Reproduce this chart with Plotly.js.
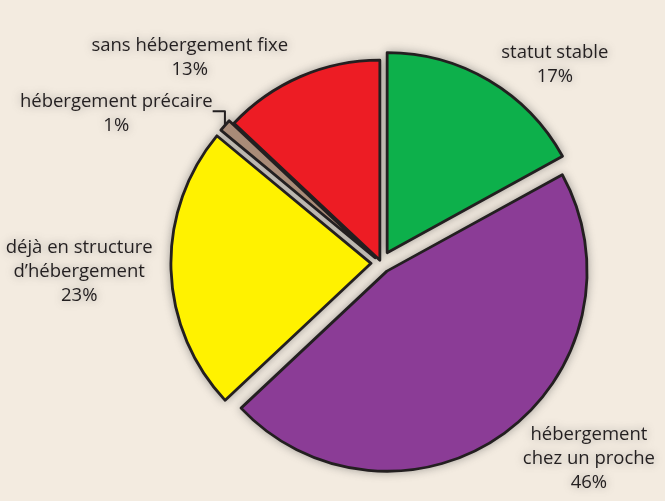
<!DOCTYPE html>
<html>
<head>
<meta charset="utf-8">
<script src="https://cdn.plot.ly/plotly-3.0.1.min.js"></script>
<style>
html,body{margin:0;padding:0;background:#f3ebe0;}
#chart{width:665px;height:501px;}
.pielayer .trace{filter:drop-shadow(0 0 5px rgba(60,60,60,0.45));}
</style>
</head>
<body>
<div id="chart"></div>
<script>
const categories = [
  "statut stable",
  "hébergement<br>chez un proche",
  "déjà en structure<br>d’hébergement",
  "hébergement précaire",
  "sans hébergement fixe"
];
const values = [17, 46, 23, 1, 13];
const colors = ["#0db04b", "#8b3c96", "#fff200", "#a98b78", "#ed1c24"];
const pulls = [0.06, 0.05, 0.05, 0.04, 0.015];

Plotly.newPlot("chart", [{
  type: "pie",
  labels: categories,
  values: values,
  sort: false,
  direction: "clockwise",
  rotation: 0,
  pull: pulls,
  marker: {colors: colors, line: {color: "#231f20", width: 2.8}},
  texttemplate: "%{label}<br>%{value}%",
  textposition: "outside",
  textfont: {family: "'Open Sans', Lato, sans-serif", size: 18.5, color: "#231f20"},
  domain: {x: [0.254, 0.892], y: [0.045, 0.905]},
  hoverinfo: "label+value",
  showlegend: false,
  automargin: false
}], {
  width: 665, height: 501,
  margin: {l: 0, r: 0, t: 0, b: 0},
  paper_bgcolor: "#f3ebe0",
  plot_bgcolor: "#f3ebe0",
  showlegend: false
}, {displayModeBar: false, staticPlot: true});
</script>
</body>
</html>
